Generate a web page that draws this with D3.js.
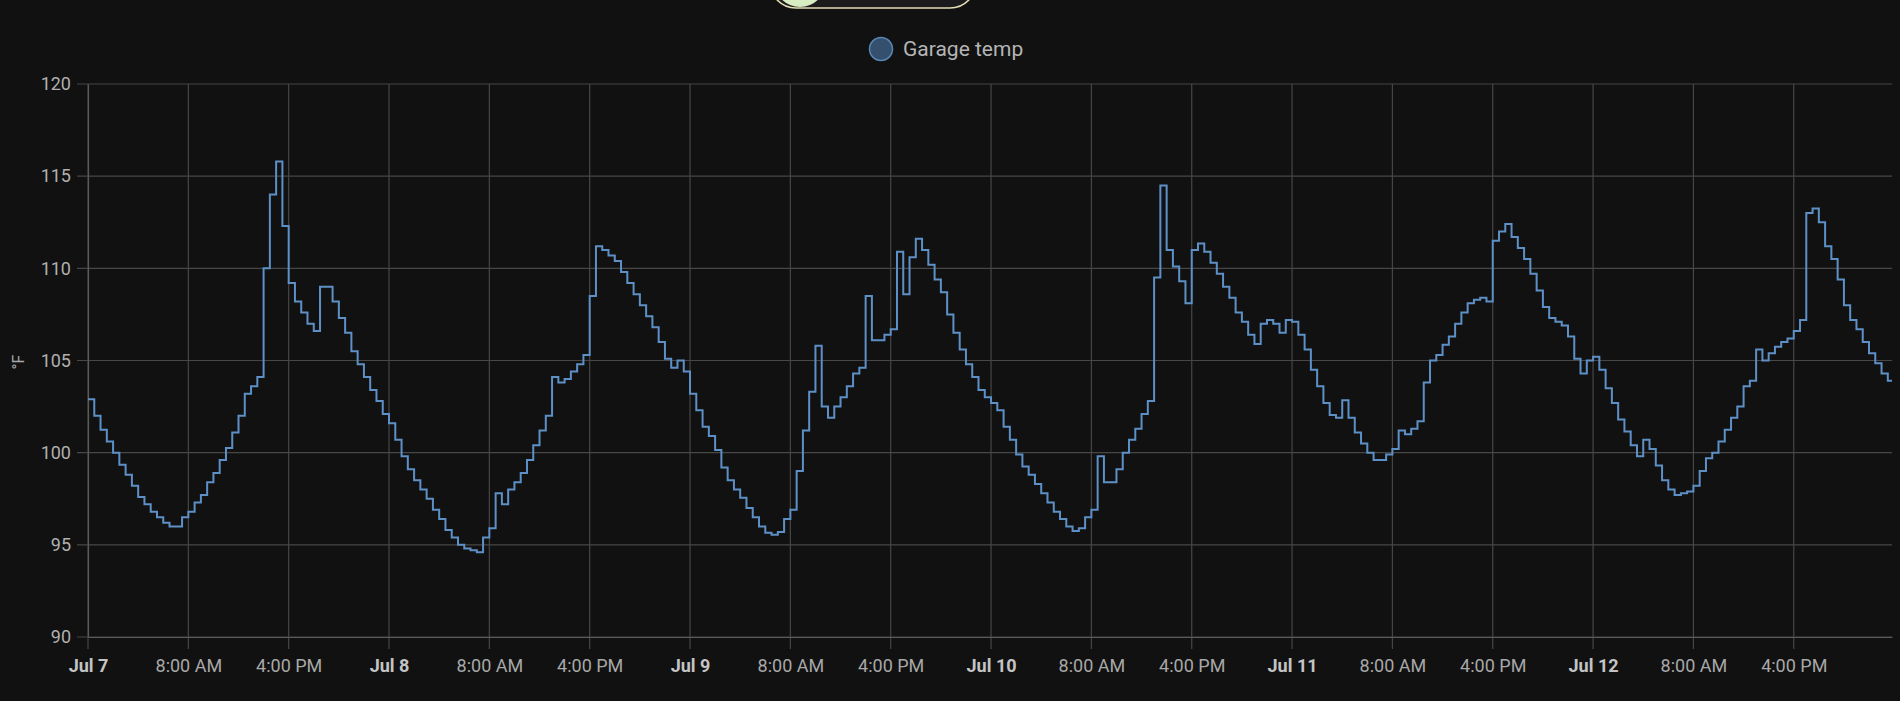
<!DOCTYPE html>
<html>
<head>
<meta charset="utf-8">
<script src="https://cdn.jsdelivr.net/npm/d3@7"></script>
<style>
  body { margin: 0; background: #111111; }
  svg { display: block; font-family: Roboto, "Noto Sans", sans-serif; }
</style>
</head>
<body>
<div id="chart"></div>
<script>
// Garage temp readings, one value every 30 minutes starting at midnight
var jul7 = [102.9, 102.0, 101.25, 100.6, 100.0, 99.35, 98.8, 98.2, 97.6, 97.2, 96.8, 96.5,
  96.2, 96.0, 96.0, 96.5, 96.8, 97.3, 97.7, 98.4, 98.9, 99.6, 100.25, 101.1,
  102.0, 103.2, 103.6, 104.1, 110.0, 114.0, 115.8, 112.3, 109.2, 108.2, 107.6, 107.0,
  106.6, 109.0, 109.0, 108.2, 107.3, 106.5, 105.5, 104.8, 104.1, 103.4, 102.8, 102.1];
var jul8 = [101.6, 100.7, 99.8, 99.1, 98.5, 98.0, 97.5, 96.9, 96.4, 95.8, 95.4, 95.0,
  94.8, 94.7, 94.6, 95.4, 95.9, 97.8, 97.2, 98.0, 98.4, 98.9, 99.6, 100.4,
  101.2, 102.0, 104.1, 103.8, 104.0, 104.4, 104.8, 105.3, 108.5, 111.2, 111.0, 110.7,
  110.4, 109.8, 109.2, 108.6, 108.0, 107.4, 106.8, 106.0, 105.1, 104.6, 105.0, 104.4];
var jul9 = [103.2, 102.3, 101.4, 100.9, 100.15, 99.2, 98.5, 98.0, 97.55, 97.0, 96.5, 96.0,
  95.65, 95.55, 95.7, 96.4, 96.9, 99.0, 101.2, 103.3, 105.8, 102.5, 101.9, 102.5,
  103.0, 103.6, 104.3, 104.6, 108.5, 106.1, 106.1, 106.4, 106.7, 110.9, 108.6, 110.6,
  111.6, 111.0, 110.2, 109.4, 108.7, 107.5, 106.5, 105.6, 104.8, 104.1, 103.4, 103.0];
var jul10 = [102.7, 102.3, 101.4, 100.7, 99.9, 99.25, 98.8, 98.3, 97.8, 97.3, 96.8, 96.4,
  96.0, 95.75, 95.9, 96.5, 96.9, 99.8, 98.4, 98.4, 99.1, 100.0, 100.7, 101.3,
  102.1, 102.8, 109.5, 114.5, 111.0, 110.1, 109.3, 108.1, 111.0, 111.35, 110.9, 110.3,
  109.7, 109.0, 108.4, 107.6, 107.1, 106.4, 105.9, 107.0, 107.2, 107.0, 106.5, 107.2];
var jul11 = [107.1, 106.4, 105.6, 104.5, 103.6, 102.7, 102.05, 101.9, 102.85, 101.9, 101.1, 100.5,
  100.0, 99.6, 99.6, 99.9, 100.2, 101.2, 101.0, 101.3, 101.7, 103.8, 105.0, 105.3,
  105.85, 106.3, 107.0, 107.6, 108.1, 108.3, 108.4, 108.2, 111.5, 112.0, 112.4, 111.7,
  111.1, 110.5, 109.7, 108.8, 107.9, 107.3, 107.1, 106.9, 106.3, 105.1, 104.3, 105.0];
var jul12 = [105.2, 104.5, 103.5, 102.7, 101.8, 101.15, 100.4, 99.8, 100.7, 100.2, 99.3, 98.5,
  98.0, 97.7, 97.8, 97.9, 98.2, 99.0, 99.7, 100.0, 100.6, 101.25, 101.9, 102.5,
  103.6, 103.9, 105.6, 105.0, 105.4, 105.75, 106.0, 106.2, 106.6, 107.2, 113.0, 113.25,
  112.5, 111.2, 110.5, 109.4, 108.0, 107.2, 106.7, 106.0, 105.4, 104.85, 104.3, 103.9];

var days = [jul7, jul8, jul9, jul10, jul11, jul12];
var yTicks = [90, 95, 100, 105, 110, 115, 120];
var seriesName = "Garage temp";
var unitLabel = "°F";

var svgWidth = 1900;
var svgHeight = 701;

var margin = { top: 84, right: 8, bottom: 64, left: 88 };
var width = svgWidth - margin.left - margin.right;
var height = svgHeight - margin.top - margin.bottom;

var start = new Date(2023, 6, 7, 0, 0);
var end = new Date(2023, 6, 12, 23, 50);

// flatten the day arrays into timestamped readings
var readings = [];
days.forEach(function(day, d) {
  day.forEach(function(v, i) {
    readings.push({ t: d3.timeMinute.offset(start, d * 1440 + i * 30), v: v });
  });
});
// the last state carries on to the end of the window
readings.push({ t: end, v: readings[readings.length - 1].v });

var svg = d3.select("#chart")
  .append("svg")
  .attr("width", svgWidth)
  .attr("height", svgHeight);

// toggle control peeking in from above
var toggle = svg.append("g");
toggle.append("rect")
  .attr("x", 770).attr("y", -44)
  .attr("width", 206).attr("height", 52)
  .attr("rx", 26)
  .attr("fill", "#1b1b1d")
  .attr("stroke", "#e4dcb4")
  .attr("stroke-width", 1.5);
toggle.append("circle")
  .attr("cx", 800).attr("cy", -19).attr("r", 26)
  .attr("fill", "#d9edc2");

// legend
var legend = svg.append("g");
legend.append("circle")
  .attr("cx", 881).attr("cy", 49).attr("r", 11.5)
  .attr("fill", "#34506e")
  .attr("stroke", "#5a86b4")
  .attr("stroke-width", 1.5);
legend.append("text")
  .attr("x", 903).attr("y", 49)
  .attr("dy", "0.35em")
  .attr("fill", "#b5b5b5")
  .attr("font-size", "21px")
  .text(seriesName);

var chartGroup = svg.append("g")
  .attr("transform", `translate(${margin.left}, ${margin.top})`);

var xScale = d3.scaleTime().domain([start, end]).range([0, width]);
var yScale = d3.scaleLinear().domain([90, 120]).range([height, 0]);

var xTicks = d3.timeHour.every(8).range(start, end);

// grid
chartGroup.append("g")
  .selectAll("line.h")
  .data(yTicks)
  .enter().append("line")
  .attr("x1", -11).attr("x2", width)
  .attr("y1", d => yScale(d)).attr("y2", d => yScale(d))
  .attr("stroke", "#474747")
  .attr("stroke-width", 1.2);

chartGroup.append("g")
  .selectAll("line.v")
  .data(xTicks)
  .enter().append("line")
  .attr("x1", d => xScale(d)).attr("x2", d => xScale(d))
  .attr("y1", 0).attr("y2", height + 12)
  .attr("stroke", "#474747")
  .attr("stroke-width", 1.2);

// axes
var bottomAxis = d3.axisBottom(xScale)
  .tickValues(xTicks)
  .tickSize(0)
  .tickFormat(function(d) {
    return d.getHours() === 0 ? d3.timeFormat("%b %-d")(d) : d3.timeFormat("%-I:%M %p")(d);
  });

var xAxis = chartGroup.append("g")
  .attr("transform", `translate(0, ${height})`)
  .call(bottomAxis);
xAxis.select(".domain").attr("stroke", "#5a5a5a").attr("stroke-width", 1.2);
xAxis.selectAll("text")
  .attr("y", 35).attr("dy", 0)
  .attr("font-size", "18px")
  .attr("font-family", "Roboto, sans-serif")
  .attr("font-weight", d => d.getHours() === 0 ? "bold" : "normal")
  .attr("fill", d => d.getHours() === 0 ? "#c4c4c4" : "#a8a8a8");

var leftAxis = d3.axisLeft(yScale)
  .tickValues(yTicks)
  .tickSize(0)
  .tickPadding(17);

var yAxis = chartGroup.append("g").call(leftAxis);
yAxis.select(".domain").attr("stroke", "#5a5a5a").attr("stroke-width", 1.2);
yAxis.selectAll("text")
  .attr("font-size", "18px")
  .attr("font-family", "Roboto, sans-serif")
  .attr("fill", "#b0b0b0");

// unit label
svg.append("text")
  .attr("transform", "translate(24, 362) rotate(-90)")
  .attr("text-anchor", "middle")
  .attr("font-size", "16px")
  .attr("fill", "#a8a8a8")
  .text(unitLabel);

// the stepped temperature line
var line = d3.line()
  .x(d => xScale(d.t))
  .y(d => yScale(d.v))
  .curve(d3.curveStepAfter);

chartGroup.append("path")
  .datum(readings)
  .attr("fill", "none")
  .attr("stroke", "#5e90c8")
  .attr("stroke-width", 2)
  .attr("stroke-linejoin", "miter")
  .attr("d", line);
</script>
</body>
</html>
